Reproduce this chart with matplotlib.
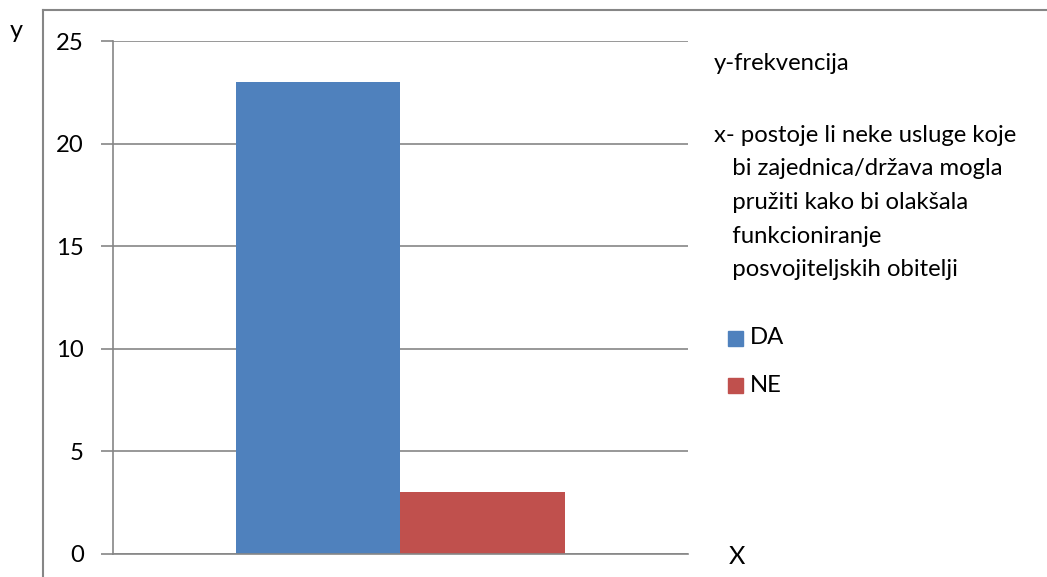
import matplotlib.pyplot as plt
from matplotlib.lines import Line2D
from matplotlib.patches import Rectangle

plt.rcParams['font.family'] = ['Lato', 'DejaVu Sans']

series = ['DA', 'NE']
values = [23, 3]
colors = ['#4F81BD', '#C0504D']
yticks = [0, 5, 10, 15, 20, 25]
legend_lines = ['y-frekvencija',
                'x- postoje li neke usluge koje',
                '   bi zajednica/država mogla',
                '   pružiti kako bi olakšala',
                '   funkcioniranje',
                '   posvojiteljskih obitelji']

W, H = 1047, 577
fs = 17.2
fig = plt.figure(figsize=(W / 100, H / 100), dpi=100)
ax = fig.add_axes([113 / W, 1 - 554 / H, (688 - 113) / W, (554 - 41) / H])

# excel style clustered bars, gap width 150%
bw = 1 / 3.5
for i, (s, v, c) in enumerate(zip(series, values, colors)):
    ax.bar(-bw + i * bw, v, width=bw, align='edge', color=c, zorder=2)

ax.set_xlim(-0.5, 0.5)
ax.set_ylim(0, 25)
ax.set_yticks(yticks)
ax.set_xticks([])
ax.yaxis.grid(True, color='#868686', lw=1.2, zorder=0)
for side in ['top', 'right']:
    ax.spines[side].set_visible(False)
ax.spines['left'].set_color('#868686')
ax.spines['bottom'].set_color('#868686')
ax.spines['left'].set_linewidth(1.2)
ax.spines['bottom'].set_linewidth(1.2)
ax.tick_params(axis='y', length=9, width=1.2, color='#868686', labelsize=fs, pad=12)

# outer chart border (left and top visible)
fig.add_artist(Line2D([43 / W, 43 / W], [0, 1 - 10 / H], color='#868686', lw=1.5))
fig.add_artist(Line2D([43 / W, 1], [1 - 10 / H, 1 - 10 / H], color='#868686', lw=1.5))

fig.text(10 / W, 1 - 31 / H, 'y', fontsize=fs + 1, va='center')
fig.text(729 / W, 1 - 556 / H, 'X', fontsize=fs + 1, va='center')

for k, line in enumerate(legend_lines):
    yy = 63 if k == 0 else 135 + (k - 1) * 33.7
    fig.text(714 / W, 1 - yy / H, line, fontsize=fs, va='center')

for k, (s, c) in enumerate(zip(series, colors)):
    yy = 338 + k * 47
    fig.add_artist(Rectangle((728 / W, 1 - (yy + 7.5) / H), 15 / W, 15 / H,
                             color=c, transform=fig.transFigure))
    fig.text(750 / W, 1 - yy / H, s, fontsize=fs, va='center')

fig.savefig('out.png', dpi=100)
